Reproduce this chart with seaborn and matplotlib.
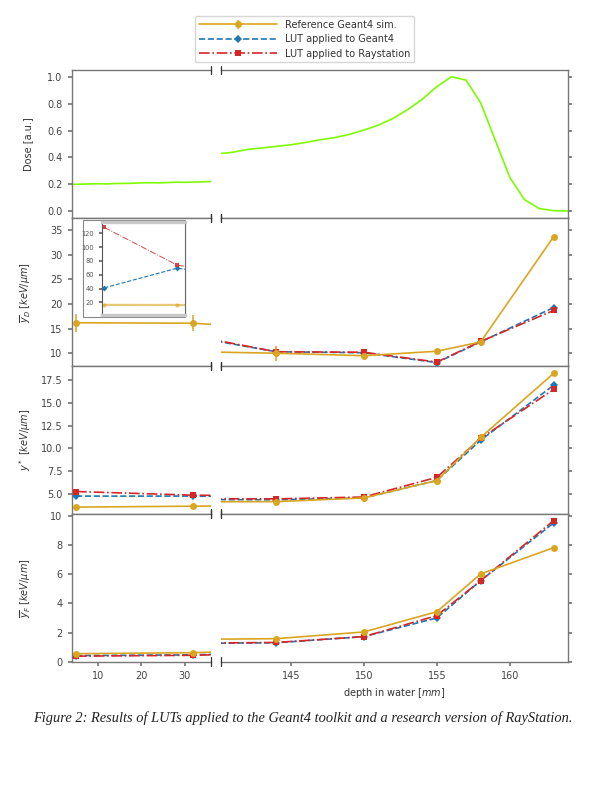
import numpy as np
import matplotlib
matplotlib.use("Agg")
import matplotlib.pyplot as plt
import seaborn as sns
from matplotlib.lines import Line2D
from matplotlib.patches import Rectangle

# ---------------- data ----------------
depth = [5, 32, 144, 150, 155, 158, 163]

yD_ref = [16.2, 16.1, 10.0, 9.5, 10.4, 12.3, 33.7]
yD_ref_err = [1.8, 1.6, 1.5, 0.15, 0.15, 0.15, 0.15]
yD_g4 = [41.0, 69.5, 10.3, 10.1, 8.1, 12.3, 19.3]
yD_rs = [128.7, 74.0, 10.3, 10.2, 8.2, 12.4, 18.7]

ystar_ref = [3.6, 3.7, 4.2, 4.6, 6.5, 11.2, 18.2]
ystar_g4 = [4.8, 4.8, 4.4, 4.6, 6.5, 10.9, 16.9]
ystar_rs = [5.3, 4.9, 4.5, 4.7, 6.85, 11.1, 16.45]

yF_ref = [0.55, 0.62, 1.58, 2.04, 3.43, 6.02, 7.82]
yF_g4 = [0.42, 0.47, 1.30, 1.72, 3.00, 5.56, 9.52]
yF_rs = [0.38, 0.44, 1.32, 1.72, 3.16, 5.56, 9.68]

dose_depth_entr = [4, 6, 8, 10, 12, 14, 16, 18, 20, 22, 24, 26, 28, 30, 32, 34, 36]
dose_entr = [0.200, 0.201, 0.203, 0.205, 0.203, 0.206, 0.207, 0.208, 0.211,
             0.212, 0.211, 0.213, 0.216, 0.215, 0.217, 0.218, 0.221]
dose_depth_peak = [140, 141, 142, 143, 144, 145, 146, 147, 148, 149, 150, 151, 152,
                   153, 154, 155, 156, 157, 158, 159, 160, 161, 162, 163, 164]
dose_peak = [0.427, 0.438, 0.459, 0.470, 0.482, 0.494, 0.511, 0.531, 0.547, 0.571,
             0.603, 0.640, 0.690, 0.755, 0.832, 0.926, 1.000, 0.975, 0.806, 0.529,
             0.251, 0.087, 0.020, 0.004, 0.002]

labels = ["Reference Geant4 sim.", "LUT applied to Geant4", "LUT applied to Raystation"]
ylabels = ["Dose [a.u.]", r"$\overline{y}_D\ [keV/\mu m]$",
           r"$y^*\ [keV/\mu m]$", r"$\overline{y}_F\ [keV/\mu m]$"]
caption = "Figure 2: Results of LUTs applied to the Geant4 toolkit and a research version of RayStation."

# ---------------- style ----------------
sns.set_theme(style="ticks")
plt.rcParams.update({
    "font.family": ["DejaVu Sans"],
    "axes.edgecolor": "#777777",
    "axes.linewidth": 1.0,
    "xtick.color": "#777777",
    "ytick.color": "#777777",
    "xtick.labelcolor": "#444444",
    "ytick.labelcolor": "#444444",
    "axes.labelcolor": "#333333",
    "xtick.labelsize": 7,
    "ytick.labelsize": 7,
    "axes.labelsize": 7,
    "xtick.major.size": 3,
    "ytick.major.size": 3,
})

ORANGE = "#DAA520"
BLUE = "#1f77b4"
RED = "#d62728"
GREEN = "#7CFC00"

fig = plt.figure(figsize=(6, 7.9), dpi=100)
L_left, L_w = 0.1195, 0.2317
R_left, R_w = 0.3678, 0.5793
row_bottoms = [0.7241, 0.5367, 0.3494, 0.1624]
row_h = 0.1873

ylims = [(-0.05, 1.05), (7.4, 37.5), (2.85, 19.0), (0.0, 10.15)]
yticks = [[0.0, 0.2, 0.4, 0.6, 0.8, 1.0], [10, 15, 20, 25, 30, 35],
          [5.0, 7.5, 10.0, 12.5, 15.0, 17.5], [0, 2, 4, 6, 8, 10]]
series = [None, (yD_ref, yD_g4, yD_rs), (ystar_ref, ystar_g4, ystar_rs), (yF_ref, yF_g4, yF_rs)]


def break_marks(ax, xpos):
    d = 0.03
    for yp in (0, 1):
        ax.plot([xpos, xpos], [yp - d, yp + d], transform=ax.transAxes,
                color="#333333", lw=0.9, clip_on=False, zorder=10)


def draw_series(ax, ref, g4, rs, err=None, ms=5, lw=1.2):
    sns.lineplot(x=depth, y=g4, ax=ax, color=BLUE, linestyle="--", marker="D",
                 markersize=ms * 0.9, markeredgewidth=0, lw=lw, sort=False,
                 estimator=None, legend=False, zorder=3)
    sns.lineplot(x=depth, y=rs, ax=ax, color=RED, linestyle="-.", marker="s",
                 markersize=ms * 0.95, markeredgewidth=0, lw=lw, sort=False,
                 estimator=None, legend=False, zorder=4)
    sns.lineplot(x=depth, y=ref, ax=ax, color=ORANGE, linestyle="-", marker="o",
                 markersize=ms, markeredgewidth=0, lw=lw, sort=False,
                 estimator=None, legend=False, zorder=5)
    if err is not None:
        ax.errorbar(depth, ref, yerr=err, fmt="none", ecolor=ORANGE,
                    elinewidth=1.1, capsize=0, zorder=5)


axes = []
for r in range(4):
    axL = fig.add_axes([L_left, row_bottoms[r], L_w, row_h])
    axR = fig.add_axes([R_left, row_bottoms[r], R_w, row_h])
    axes.append((axL, axR))
    for ax in (axL, axR):
        if r == 0:
            sns.lineplot(x=dose_depth_entr, y=dose_entr, ax=ax, color=GREEN, lw=1.2,
                         estimator=None, legend=False)
            sns.lineplot(x=dose_depth_peak, y=dose_peak, ax=ax, color=GREEN, lw=1.2,
                         estimator=None, legend=False)
        else:
            ref, g4, rs = series[r]
            draw_series(ax, ref, g4, rs, err=yD_ref_err if r == 1 else None)
        ax.set_ylim(*ylims[r])
        ax.set_yticks(yticks[r])
        ax.set_xlabel("")
        ax.set_ylabel("")
        for s in ax.spines.values():
            s.set_visible(True)
    axL.set_xlim(4, 36)
    axR.set_xlim(140.2, 164)
    axL.spines["right"].set_visible(False)
    axR.spines["left"].set_visible(False)
    axR.yaxis.tick_right()
    axR.tick_params(axis="y", labelright=False, right=True, left=False)
    axL.set_ylabel(ylabels[r])
    axL.yaxis.set_label_coords(-0.278, 0.5)
    if r < 3:
        for ax in (axL, axR):
            ax.tick_params(axis="x", bottom=False, labelbottom=False)
    else:
        axL.set_xticks([10, 20, 30])
        axR.set_xticks([145, 150, 155, 160])
        axR.set_xlabel("depth in water [$mm$]")
    break_marks(axL, 1)
    break_marks(axR, 0)

# ---------------- inset ----------------
axL1 = axes[1][0]
axL1.add_patch(Rectangle((0.0813, 0.331), 0.7352, 0.6555, transform=axL1.transAxes,
                         facecolor="white", edgecolor="#888888", lw=0.8,
                         clip_on=False, zorder=4.5))
ins = axL1.inset_axes([0.2158, 0.3446, 0.6007, 0.6304])
sns.lineplot(x=depth, y=yD_g4, ax=ins, color=BLUE, linestyle="--", marker="D",
             markersize=3, markeredgewidth=0, lw=0.8, sort=False, estimator=None,
             legend=False)
sns.lineplot(x=depth, y=yD_rs, ax=ins, color=RED, linestyle="-.", marker="s",
             markersize=3.2, markeredgewidth=0, lw=0.7, alpha=0.85, sort=False,
             estimator=None, legend=False)
sns.lineplot(x=depth, y=yD_ref, ax=ins, color=ORANGE, linestyle="-", marker="o",
             markersize=3, markeredgewidth=0, lw=1.6, alpha=0.6, sort=False,
             estimator=None, legend=False)
ins.set_xlim(4, 35)
ins.set_ylim(1.5, 137)
ins.set_yticks([20, 40, 60, 80, 100, 120])
ins.set_xticks([])
ins.set_xlabel("")
ins.set_ylabel("")
ins.tick_params(axis="y", labelsize=4.8, length=2, colors="#666666", labelcolor="#555555")
for k, s in ins.spines.items():
    s.set_visible(True)
ins.spines["left"].set_color("#555555")
ins.spines["left"].set_linewidth(0.8)
ins.spines["right"].set_color("#666666")
ins.spines["right"].set_linewidth(0.8)
ins.spines["top"].set_color("#c8c8c8")
ins.spines["top"].set_linewidth(2.4)
ins.spines["bottom"].set_color("#c8c8c8")
ins.spines["bottom"].set_linewidth(2.4)

# ---------------- legend ----------------
axR0 = axes[0][1]
h_ref = axR0.errorbar([np.nan], [np.nan], yerr=[np.nan], color=ORANGE, marker="o",
                      ms=5, mew=0, lw=1.2, elinewidth=1.1, capsize=0)
h_g4 = Line2D([], [], color=BLUE, linestyle="--", marker="D", ms=4.5, mew=0, lw=1.2)
h_rs = Line2D([], [], color=RED, linestyle="-.", marker="s", ms=4.8, mew=0, lw=1.2)
fig.legend([h_ref, h_g4, h_rs], labels, loc="upper center",
           bbox_to_anchor=(0.508, 0.986), fontsize=7, handlelength=8,
           frameon=True, fancybox=True, edgecolor="#cccccc", labelcolor="#333333",
           borderpad=0.4, labelspacing=0.45)

fig.text(0.505, 0.0911, caption, ha="center", va="center", fontsize=10.4,
         family=["Liberation Serif", "DejaVu Serif"], style="italic", color="#222222")

fig.savefig("out.png", dpi=100)
